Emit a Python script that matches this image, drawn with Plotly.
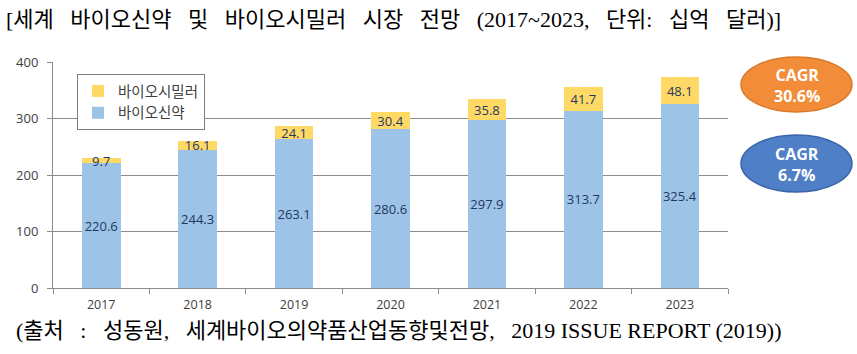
import plotly.graph_objects as go

years = ["2017", "2018", "2019", "2020", "2021", "2022", "2023"]
bio_new = [220.6, 244.3, 263.1, 280.6, 297.9, 313.7, 325.4]
biosimilar = [9.7, 16.1, 24.1, 30.4, 35.8, 41.7, 48.1]
series_names = ["바이오신약", "바이오시밀러"]
cagr_labels = ["CAGR<br>30.6%", "CAGR<br>6.7%"]

SP = " \u2002"
title_text = SP.join(["[세계", "바이오신약", "및", "바이오시밀러", "시장", "전망",
                      "(2017~2023,", "단위:", "십억", "달러)]"])
footer_text = "(출처" + SP + ":" + SP + "성동원," + SP + "세계바이오의약품산업동향및전망," + SP + \
    "2019 ISSUE REPORT (2019))"

label_font = dict(family="Open Sans, Noto Sans CJK KR", size=13, color="#1F3864")

fig = go.Figure()
fig.add_trace(go.Bar(
    x=years, y=bio_new, name=series_names[0],
    marker=dict(color="#9DC3E6", line=dict(width=0)),
    text=[f"{v:.1f}" for v in bio_new], textposition="inside",
    insidetextanchor="middle", constraintext="none", textangle=0,
    textfont=label_font,
))
fig.add_trace(go.Bar(
    x=years, y=biosimilar, name=series_names[1],
    marker=dict(color="#FFD966", line=dict(width=0)),
    text=[f"{v:.1f}" for v in biosimilar], textposition="inside",
    insidetextanchor="middle", constraintext="none", textangle=0,
    textfont=label_font,
))

L, R, T, B = 53, 129, 62, 66
W, H = 857, 354
pw, ph = W - L - R, H - T - B

def px(x):
    return (x - L) / pw

def py(y):
    return (H - B - y) / ph

shapes = [
    dict(type="circle", xref="paper", yref="paper",
         x0=px(741), x1=px(852), y0=py(112), y1=py(57),
         fillcolor="#F28C38", line=dict(color="#DA7A2C", width=1.5), layer="below"),
    dict(type="circle", xref="paper", yref="paper",
         x0=px(741), x1=px(852), y0=py(192), y1=py(135),
         fillcolor="#4F7FC6", line=dict(color="#3A65A8", width=1.5), layer="below"),
]

cagr_font = dict(family="Open Sans", size=16, color="white", weight="bold")
annotations = [
    dict(text=cagr_labels[0], x=px(797), y=py(85), xref="paper", yref="paper",
         xanchor="center", yanchor="middle", align="center",
         showarrow=False, font=cagr_font),
    dict(text=cagr_labels[1], x=px(797), y=py(164), xref="paper", yref="paper",
         xanchor="center", yanchor="middle", align="center",
         showarrow=False, font=cagr_font),
    dict(text=title_text, x=px(4), y=py(19), xref="paper", yref="paper",
         xanchor="left", yanchor="middle", showarrow=False,
         font=dict(family="Liberation Serif, Noto Sans CJK KR", size=22, color="black")),
    dict(text=footer_text, x=px(14), y=py(330), xref="paper", yref="paper",
         xanchor="left", yanchor="middle", showarrow=False,
         font=dict(family="Liberation Serif, Noto Sans CJK KR", size=22, color="black")),
]

fig.update_layout(
    width=W, height=H,
    margin=dict(l=L, r=R, t=T, b=B, pad=0),
    barmode="stack", bargap=0.6,
    plot_bgcolor="white", paper_bgcolor="white",
    font=dict(family="Open Sans, Noto Sans CJK KR", color="#404040"),
    showlegend=True,
    legend=dict(x=px(77), y=py(74), xanchor="left", yanchor="top",
                traceorder="reversed", bgcolor="white",
                bordercolor="#7F7F7F", borderwidth=1,
                font=dict(family="Noto Sans CJK KR", size=14.5, color="#404040"),
                itemwidth=30, tracegroupgap=0),
    shapes=shapes, annotations=annotations,
    xaxis=dict(showline=True, linecolor="#8C8C8C", linewidth=1,
               ticks="outside", tickson="boundaries", ticklen=5, tickcolor="#8C8C8C",
               ticklabelstandoff=5,
               tickfont=dict(size=12.5, color="#404040"), showgrid=False),
    yaxis=dict(range=[0, 400], dtick=100, showline=True, linecolor="#8C8C8C", linewidth=1,
               ticks="outside", ticklen=5, tickcolor="#8C8C8C", ticklabelstandoff=6,
               gridcolor="#8C8C8C", gridwidth=1, zeroline=False,
               tickfont=dict(size=13, color="#404040")),
)

fig.write_html("out.html")
